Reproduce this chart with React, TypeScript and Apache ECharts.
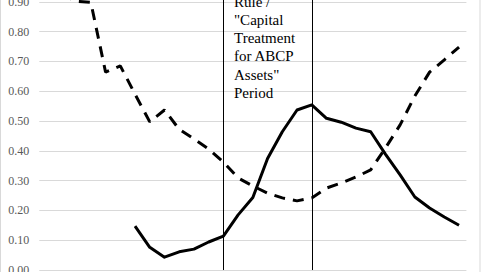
import React, { useEffect, useRef } from "react";
import * as echarts from "echarts";

// 29 periods along the horizontal axis
const periods: string[] = Array.from({ length: 29 }, (_, i) => `P${i + 1}`);

// Solid series
const solidValues: (number | null)[] = [
  null, null, null, null, null, null,
  0.147, 0.076, 0.043, 0.061, 0.07, 0.094, 0.114, 0.185, 0.243, 0.374,
  0.464, 0.537, 0.554, 0.509, 0.496, 0.476, 0.464, 0.389, 0.319, 0.245,
  0.208, 0.178, 0.15,
];

// Dashed series
const dashedValues: (number | null)[] = [
  null, 0.925, 0.902, 0.898, 0.664, 0.685, 0.59, 0.497, 0.537, 0.472,
  0.44, 0.406, 0.362, 0.309, 0.282, 0.258, 0.242, 0.232, 0.242, 0.275,
  0.292, 0.312, 0.336, 0.409, 0.487, 0.584, 0.664, 0.705, 0.748,
];

// Start and end periods of the rule window
const ruleStart = "P13";
const ruleEnd = "P19";
const ruleLines = ["Rule /", '"Capital', "Treatment", "for ABCP", 'Assets"', "Period"];

const SERIF = "Liberation Serif";

export default function App() {
  const ref = useRef<HTMLDivElement>(null);

  useEffect(() => {
    if (!ref.current) return;
    const chart = echarts.init(ref.current, undefined, { renderer: "svg" });
    chart.setOption({
      animation: false,
      backgroundColor: "#ffffff",
      grid: {
        left: 39.3,
        right: 14.6,
        top: -28,
        bottom: 2,
        containLabel: false,
        outerBoundsMode: "none",
      },
      xAxis: {
        type: "category",
        data: periods,
        boundaryGap: true,
        axisLine: { show: false },
        axisTick: { show: false },
        axisLabel: { show: false },
        splitLine: { show: false },
      },
      yAxis: {
        type: "value",
        min: 0,
        max: 1,
        interval: 0.1,
        axisLine: { show: false },
        axisTick: { show: false },
        axisLabel: {
          margin: 10,
          color: "#595959",
          fontFamily: SERIF,
          fontSize: 12,
          formatter: (v: number) => v.toFixed(2),
        },
        splitLine: { lineStyle: { color: "#d9d9d9", width: 1 } },
      },
      series: [
        {
          type: "line",
          data: dashedValues,
          symbol: "none",
          lineStyle: { color: "#000", width: 3, type: [11, 8], cap: "butt" },
          z: 3,
        },
        {
          type: "line",
          data: solidValues,
          symbol: "none",
          lineStyle: { color: "#000", width: 3, join: "round" },
          markLine: {
            silent: true,
            symbol: "none",
            label: { show: false },
            lineStyle: { color: "#000", width: 1, type: "solid" },
            data: [{ xAxis: ruleStart }, { xAxis: ruleEnd }],
          },
          z: 4,
        },
      ],
      graphic: [
        {
          type: "rect",
          silent: true,
          shape: { x: 0.5, y: -10, width: 479.5, height: 300 },
          style: { fill: "none", stroke: "#d9d9d9", lineWidth: 1 },
        },
        // one text per line of the rule caption, 18.3px apart
        ...ruleLines.map((line, i) => ({
          type: "text",
          silent: true,
          x: 234,
          y: 1.5 + i * 18.3,
          z: 10,
          style: {
            text: line,
            fontFamily: SERIF,
            fontSize: 15,
            fill: "#000",
            verticalAlign: "middle",
            align: "left",
          },
        })),
      ],
    });
    return () => chart.dispose();
  }, []);

  return (
    <div
      ref={ref}
      style={{ position: "fixed", left: 0, top: 0, width: 481, height: 272 }}
    />
  );
}
